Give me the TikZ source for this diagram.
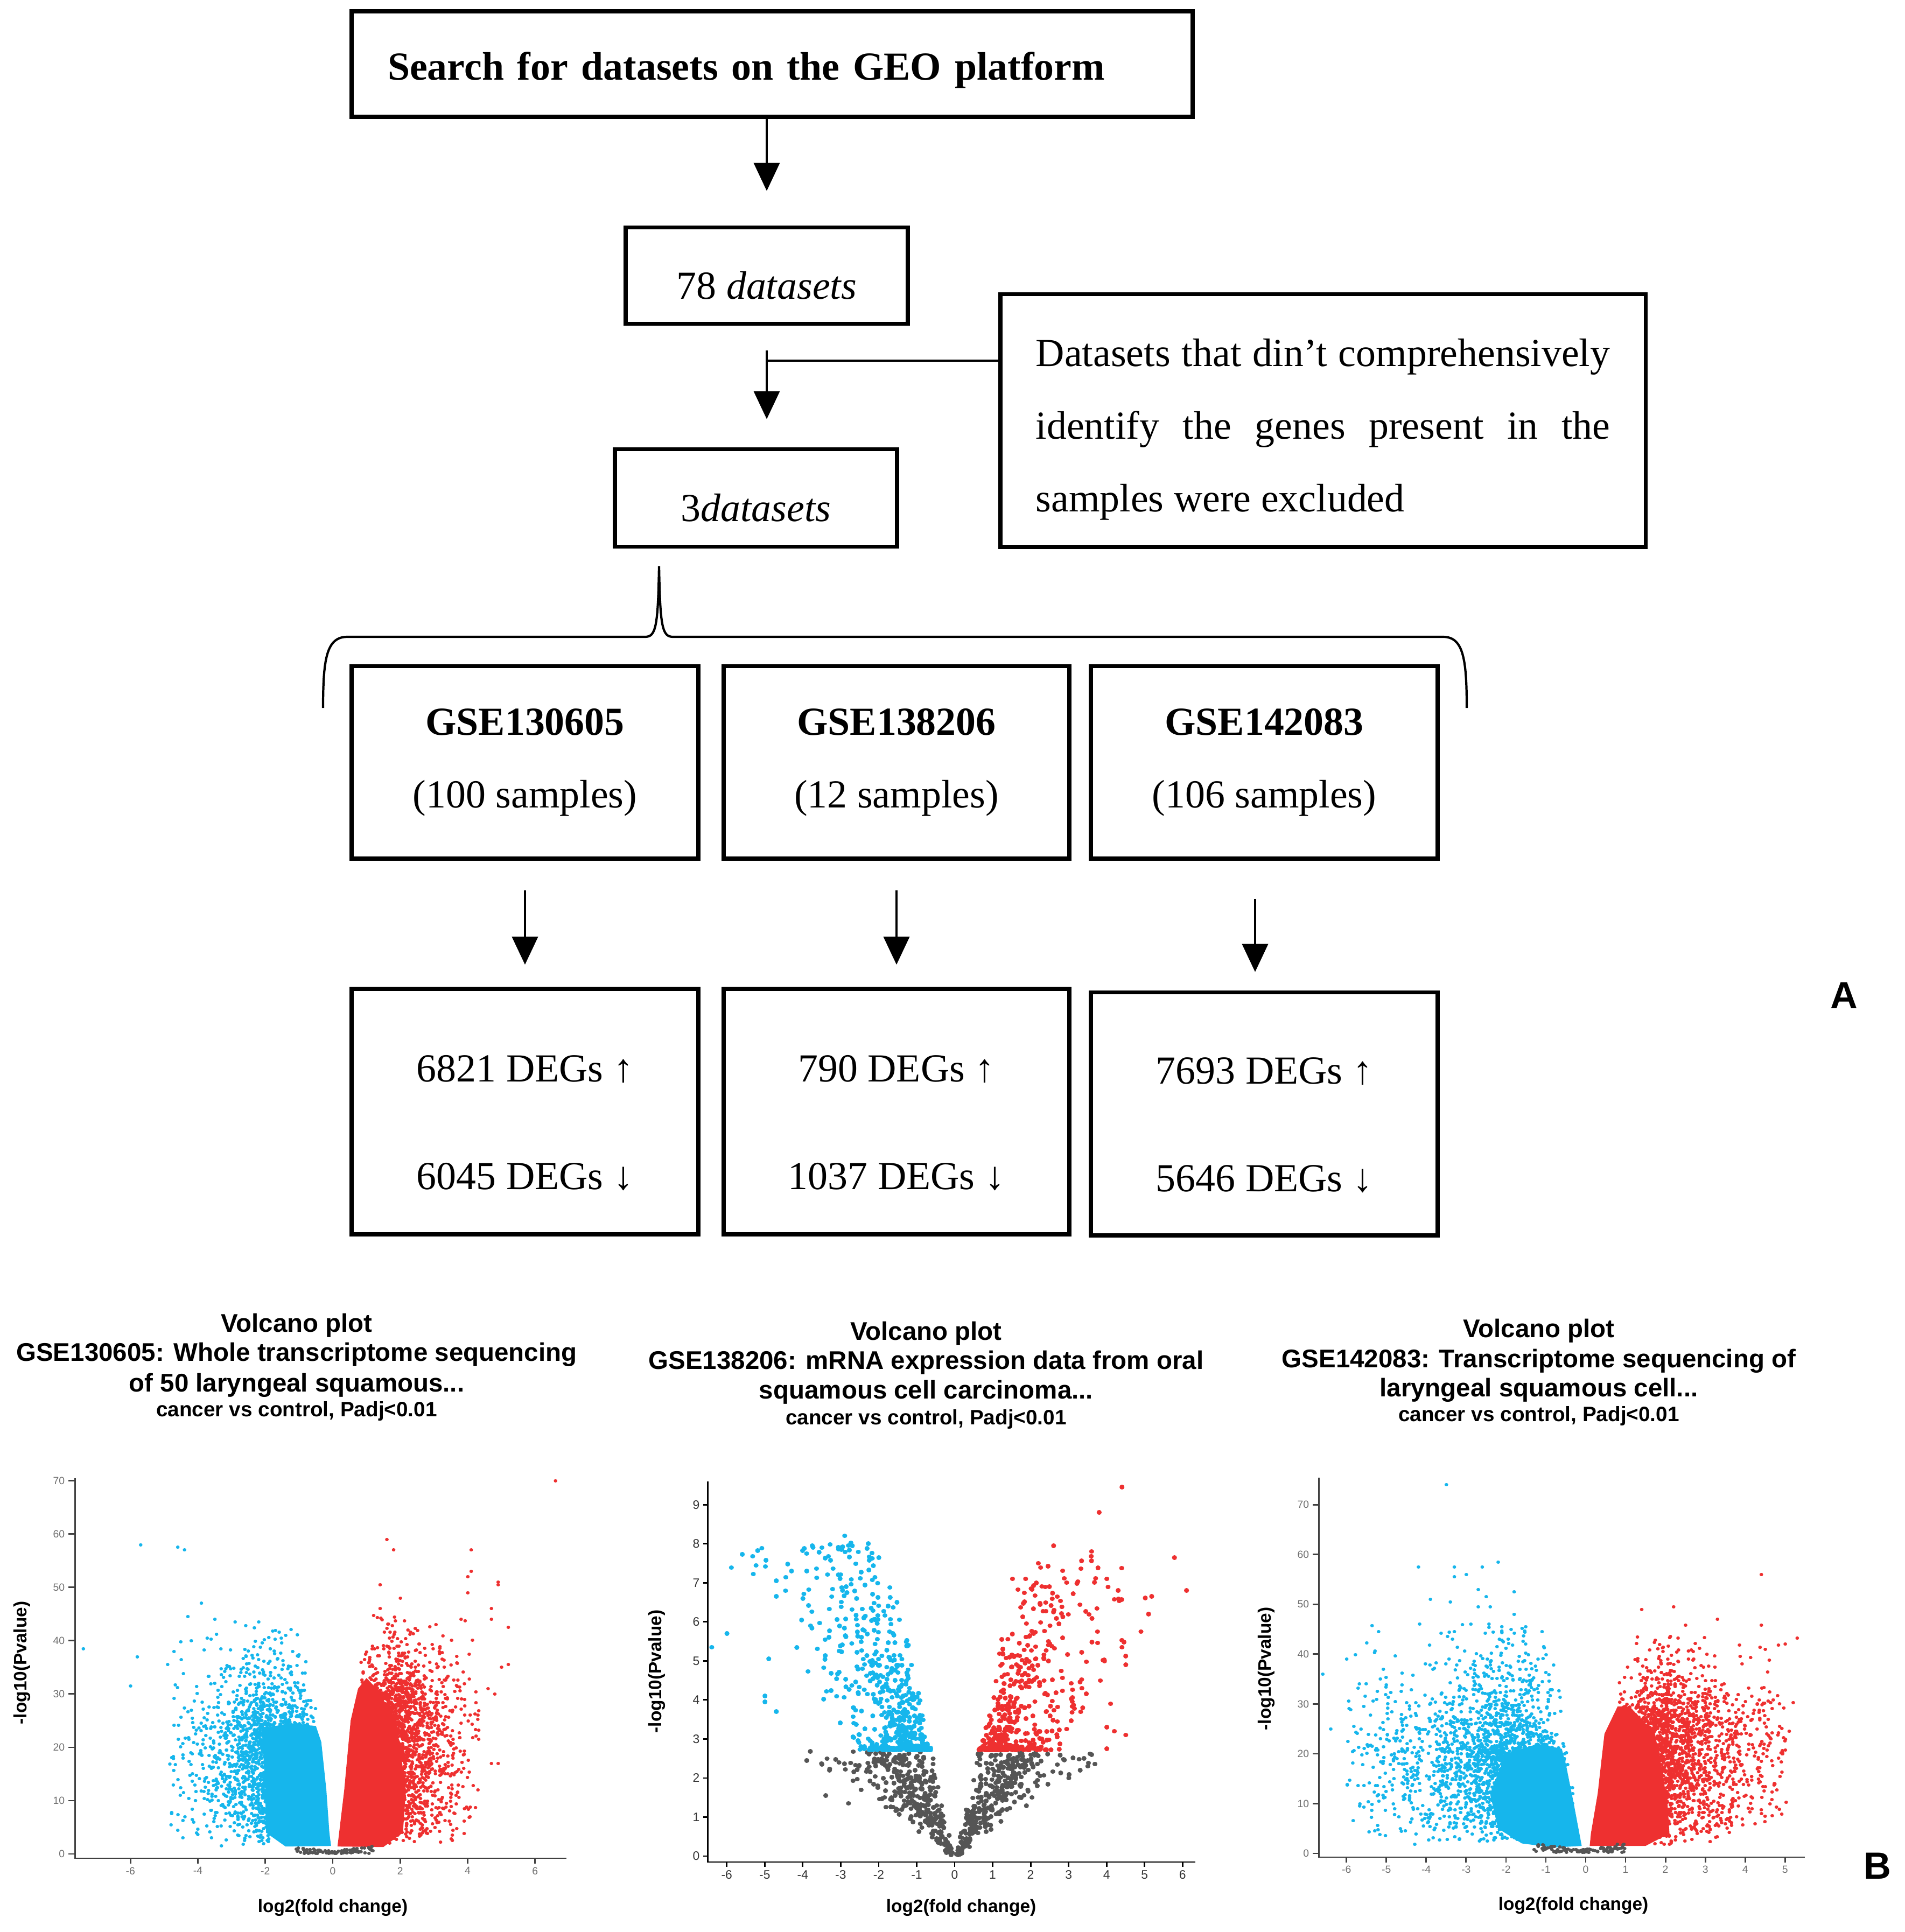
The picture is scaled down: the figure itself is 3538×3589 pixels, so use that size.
\documentclass[tikz,border=0pt]{standalone}
\usepackage{fontspec}
\setmainfont{Liberation Serif}
\newfontfamily\plotfont{Liberation Sans}
\usetikzlibrary{arrows.meta}

\definecolor{upred}{RGB}{238,48,48}
\definecolor{downblue}{RGB}{22,182,236}
\definecolor{flatgray}{RGB}{85,85,85}
\definecolor{tickgray}{RGB}{110,110,110}
\newcommand{\lift}[1]{\rule{0pt}{#1}}

\tikzstyle{flow box}=[draw,line width=2.2pt,inner sep=0pt,align=center,font=\fontsize{21}{38.4}\selectfont]
\tikzstyle{one line}=[text height=25pt,text depth=0pt]
\tikzstyle{flow arrow}=[draw,line width=1.1pt,-{Triangle[width=4.8mm,length=5.2mm]}]
\tikzstyle{plain line}=[draw,line width=1.1pt]
\tikzstyle{brace line}=[draw,line width=1.2pt]
\tikzstyle{gene dot}=[line cap=round,line width=0.6mm]
\tikzstyle{big dot}=[line cap=round,line width=0.85mm]
\tikzstyle{plot title}=[font=\plotfont\bfseries\fontsize{13.5}{15}\selectfont,anchor=base]
\tikzstyle{plot subtitle}=[font=\plotfont\bfseries\fontsize{11}{12}\selectfont,anchor=base]
\tikzstyle{axis label}=[font=\plotfont\bfseries\fontsize{9.5}{11}\selectfont]
\tikzstyle{axis line}=[draw=black!75,line width=0.8pt]
\tikzstyle{tick label}=[font=\plotfont\fontsize{5.5}{6}\selectfont,text=tickgray,inner sep=1.5pt]
\tikzstyle{panel label}=[font=\plotfont\bfseries\fontsize{20}{24}\selectfont]

\begin{document}
\begin{tikzpicture}[x=0.01cm,y=-0.01cm]
\useasboundingbox (0,0) rectangle (3538,3589);
\pgfmathsetseed{11}

% ---- A: selection of the datasets
\node[flow box,font=\bfseries\fontsize{21}{25}\selectfont,align=left,text width=14.27cm,inner xsep=6.7mm,minimum height=1.96cm,text height=17pt,text depth=0pt] (search) at (1434,119) {Search for datasets on the GEO platform};
\node[flow box,one line,minimum width=5.24cm,minimum height=1.79cm] (all) at (1424,512) {78 \textit{datasets}};
\node[flow box,one line,minimum width=5.24cm,minimum height=1.81cm] (kept) at (1404,925) {3\textit{datasets}};
\node[flow box,align=justify,text width=10.66cm,inner xsep=6.6mm,minimum height=4.69cm] (excl) at (2457,781) {\hyphenpenalty=10000 \lift{24pt}Datasets that din’t comprehensively identify the genes present in the\linebreak samples were excluded};

\path[flow arrow,shorten >=6.4mm] (search.south -| all.north) -- (all.north);
\coordinate (join) at (1424,670);
\path[plain line] (excl.west |- join) -- (join);
\path[flow arrow,shorten <=4.6mm,shorten >=5.2mm] (all.south) -- (all.south |- kept.north);

% brace over the three series
\draw[brace line] (600,1315) .. controls (600,1225) and (606,1183) .. (645,1183) -- (1198,1183)
  .. controls (1218,1183) and (1222,1165) .. (1224,1052)
  .. controls (1226,1165) and (1230,1183) .. (1250,1183) -- (2680,1183)
  .. controls (2718,1183) and (2724,1225) .. (2724,1315);

\node[flow box,minimum width=6.43cm,minimum height=3.57cm] (gse1) at (975,1416) {\textbf{GSE130605}\\(100 samples)};
\node[flow box,minimum width=6.41cm,minimum height=3.57cm] (gse2) at (1665,1416) {\textbf{GSE138206}\\(12 samples)};
\node[flow box,minimum width=6.43cm,minimum height=3.57cm] (gse3) at (2348,1416) {\textbf{GSE142083}\\(106 samples)};

\node[flow box,minimum width=6.43cm,minimum height=4.56cm] (deg1) at (975,2065) {\lift{26pt}6821 DEGs ↑\\[18.6pt]6045 DEGs ↓};
\node[flow box,minimum width=6.41cm,minimum height=4.56cm] (deg2) at (1665,2065) {\lift{26pt}790 DEGs ↑\\[18.6pt]1037 DEGs ↓};
\node[flow box,minimum width=6.43cm,minimum height=4.51cm] (deg3) at (2348,2069) {\lift{26pt}7693 DEGs ↑\\[18.6pt]5646 DEGs ↓};

\foreach \n in {1,2}
  \path[flow arrow,shorten <=5.5mm,shorten >=4.1mm] (gse\n.south) -- (deg\n.north);
\path[flow arrow,shorten <=7.1mm,shorten >=3.4mm] ([xshift=-1.7mm]gse3.south) -- ([xshift=-1.7mm]deg3.north);

\node[panel label] (labA) at (3425,1849) {A};

% ---- B: volcano plots
% GSE130605
\node[plot title] (t1a) at (551,2474) {Volcano plot};
\node[plot title] (t1b) at (551,2528) {GSE130605: Whole transcriptome sequencing};
\node[plot title] (t1c) at (551,2585) {of 50 laryngeal squamous...};
\node[plot subtitle] (t1d) at (551,2631) {cancer vs control, Padj<0.01};
\begin{scope}[shift={(618,3444)},x=0.626cm,y=0.099cm]
  \fill[downblue] (-0.05,1.5) -- (-0.1,4) -- (-0.19,12) -- (-0.34,21) -- (-0.5,24) -- (-1.3,24.5)
    -- (-2.1,23.5) -- (-2.0,12) -- (-1.98,4) -- (-1.4,1.4) -- cycle;
  \fill[upred] (0.14,1.4) -- (0.19,4) -- (0.34,12) -- (0.53,25) -- (0.75,31) -- (1.0,33) -- (1.3,31)
    -- (1.88,25) -- (2.17,12) -- (2.08,4) -- (1.5,1.3) -- cycle;
  \foreach \i in {1,...,2000}{
    \pgfmathsetmacro\yy{1.5+22.5*rnd+6*min(-ln(0.001+rnd),3.2)}
    \pgfmathsetmacro\xx{-(0.05+0.016*\yy+(1.95-0.016*\yy)*rnd+0.9*min(-ln(0.001+rnd),3.2))}
    \draw[gene dot,downblue] (\xx,\yy) -- ++(0.01,0);
  }
  \foreach \i in {1,...,2200}{
    \pgfmathsetmacro\yy{1.5+28*rnd+5*min(-ln(0.001+rnd),3.2)}
    \pgfmathsetmacro\xx{0.12+0.018*\yy+(1.95-0.018*\yy)*rnd+0.72*min(-ln(0.001+rnd),3.2)}
    \draw[gene dot,upred] (\xx,\yy) -- ++(0.01,0);
  }
  \foreach \xx/\yy in {-5.7/58,-4.6/57.5,-4.4/57,-7.4/38.5,-3.9/47,-4.3/44.5,-3.5/44,-2.9/43.5,
      -2.2/43.5,-1.4/41,-5.8/37,-6/31.5,-4.9/35.5,-4.2/40}
    \draw[gene dot,downblue] (\xx,\yy) -- ++(0.01,0);
  \foreach \xx/\yy in {6.6/70,1.6/59,1.8/57,4.1/57,4.1/53,4/52,4.9/51,4.9/50.5,1.4/50.5,4/49,2/48,
      1.4/46,4.7/46,3.8/44,4.7/44,5.2/42.5,5/35,5.2/35.5,4.8/30,4.7/17,4.9/17,3.9/8.5,4.3/26,4.6/31}
    \draw[gene dot,upred] (\xx,\yy) -- ++(0.01,0);
  \foreach \i in {1,...,100}{
    \pgfmathsetmacro\xx{-1.1+2.3*rnd}
    \pgfmathsetmacro\yy{0.1+(0.4+0.8*abs(\xx))*rnd}
    \draw[gene dot,flatgray] (\xx,\yy) -- ++(0.01,0);
  }
  \draw[axis line] (-7.64,70.5) -- (-7.64,-0.8) -- (6.93,-0.8);
  \foreach \t in {0,10,...,70}
    \draw[axis line] (-7.64,\t) -- (-7.84,\t) node[tick label,left] (a1y\t) {\t};
  \foreach \t in {-6,-4,...,6}
    \draw[axis line] (\t,-0.8) -- (\t,-1.8) node[tick label,below] (a1x\t) {\t};
\end{scope}
\node[axis label,rotate=90] (ylab1) at (41,3089) {-log10(Pvalue)};
\node[axis label] (xlab1) at (618,3544) {log2(fold change)};

% GSE138206
\node[plot title] (t2a) at (1720,2489) {Volcano plot};
\node[plot title] (t2b) at (1720,2543) {GSE138206: mRNA expression data from oral};
\node[plot title] (t2c) at (1720,2598) {squamous cell carcinoma...};
\node[plot subtitle] (t2d) at (1720,2646) {cancer vs control, Padj<0.01};
\begin{scope}[shift={(1773,3448)},x=0.705cm,y=0.725cm]
  \foreach \i in {1,...,650}{
    \pgfmathsetmacro\yy{2.68*(0.001+rnd)^0.75}
    \pgfmathsetmacro\xx{0.02+0.22*\yy+(0.1+0.5*\yy)*rnd+0.8*\yy*(0.001+rnd)^3}
    \ifodd\i
      \draw[big dot,flatgray] (-\xx,\yy) -- ++(0.01,0);
    \else
      \draw[big dot,flatgray] (\xx,\yy) -- ++(0.01,0);
    \fi
  }
  \foreach \i in {1,...,600}{
    \pgfmathsetmacro\yy{2.72+5.3*(0.001+rnd)^2.6}
    \pgfmathsetmacro\dd{(0.6+0.2*(\yy-2.7))*rnd+(1.4+0.3*(\yy-2.7))*(0.001+rnd)^3}
    \draw[big dot,downblue] ({-(0.62+0.22*(\yy-2.7)+\dd)},\yy) -- ++(0.01,0);
  }
  \foreach \i in {1,...,520}{
    \pgfmathsetmacro\yy{2.72+5*(0.001+rnd)^2.9}
    \pgfmathsetmacro\dd{(0.6+0.25*(\yy-2.7))*rnd+(1.6+0.35*(\yy-2.7))*(0.001+rnd)^3}
    \draw[big dot,upred] ({0.62+0.2*(\yy-2.7)+\dd},\yy) -- ++(0.01,0);
  }
  \foreach \xx/\yy in {-3.9/2.45,-3.5/2.35,-3.3/2.2,-3.4/1.55,-2.8/1.35,3.6/2.6,3.4/2.5,3.3/2.2,3/2,3.5/2.3}
    \draw[big dot,flatgray] (\xx,\yy) -- ++(0.01,0);
  \foreach \xx/\yy in {-6.4/5.35,-6/5.7,-4.9/5.05,-5/4.1,-5/3.95,-4.7/3.7,-4.7/7.05,-4.7/6.65,
      -4.3/7.3,-3.9/7.3,-3.5/7.9,-3/7.9,-2.9/8.2,-2.7/7.95,-4/6.6,-3.8/5.9}
    \draw[big dot,downblue] (\xx,\yy) -- ++(0.01,0);
  \foreach \xx/\yy in {4.4/9.45,3.8/8.8,6.1/6.8,5.1/6.2,4.9/5.75,4.4/5.35,4.5/4.9,4.1/3.9,4/3.3,
      4.2/3.2,4.5/3.1,4/2.75,3.6/7.8,2.6/7.95,4/7.1,4.3/6.8}
    \draw[big dot,upred] (\xx,\yy) -- ++(0.01,0);
  \draw[axis line,draw=black] (-6.5,9.6) -- (-6.5,-0.15) -- (6.34,-0.15);
  \foreach \t in {0,...,9}
    \draw[axis line,draw=black] (-6.5,\t) -- (-6.62,\t) node[tick label,left,text=black!80,font=\plotfont\fontsize{6.5}{7}\selectfont] (a2y\t) {\t};
  \foreach \t in {-6,...,6}
    \draw[axis line,draw=black] (\t,-0.15) -- (\t,-0.27) node[tick label,below,text=black!80,font=\plotfont\fontsize{6.5}{7}\selectfont] (a2x\t) {\t};
\end{scope}
\node[axis label,rotate=90] (ylab2) at (1220,3105) {-log10(Pvalue)};
\node[axis label] (xlab2) at (1785,3544) {log2(fold change)};

% GSE142083
\node[plot title] (t3a) at (2858,2484) {Volcano plot};
\node[plot title] (t3b) at (2858,2540) {GSE142083: Transcriptome sequencing of};
\node[plot title] (t3c) at (2858,2594) {laryngeal squamous cell...};
\node[plot subtitle] (t3d) at (2858,2640) {cancer vs control, Padj<0.01};
\begin{scope}[shift={(2945,3443)},x=0.74cm,y=0.0925cm]
  \fill[downblue] (-0.1,1.5) -- (-0.3,10) -- (-0.5,18) -- (-0.6,21) -- (-1.2,22) -- (-2.0,20)
    -- (-2.4,12) -- (-2.2,5) -- (-1.6,2) -- (-0.8,1.2) -- cycle;
  \fill[upred] (0.1,1.5) -- (0.13,4) -- (0.3,12) -- (0.47,24) -- (0.8,29.5) -- (1.1,29.5) -- (1.74,24)
    -- (2.05,10.4) -- (2.1,4) -- (1.5,1.5) -- cycle;
  \foreach \i in {1,...,2200}{
    \pgfmathsetmacro\yy{1.5+19*rnd+8*min(-ln(0.001+rnd),3.2)}
    \pgfmathsetmacro\xx{-(0.08+0.016*\yy+(2.1-0.016*\yy)*rnd+1.2*min(-ln(0.001+rnd),3.2))}
    \draw[gene dot,downblue] (\xx,\yy) -- ++(0.01,0);
  }
  \foreach \i in {1,...,2400}{
    \pgfmathsetmacro\yy{1.5+25*rnd+5.5*min(-ln(0.001+rnd),3.2)}
    \pgfmathsetmacro\xx{0.1+0.02*\yy+(1.9-0.02*\yy)*rnd+0.95*min(-ln(0.001+rnd),3.2)}
    \draw[gene dot,upred] (\xx,\yy) -- ++(0.01,0);
  }
  \foreach \xx/\yy in {-3.5/74,-2.2/58.5,-3.3/57.5,-2.6/57.5,-4.2/57.5,-3.3/55.5,-3/56,-2.7/53,
      -1.8/52.5,-3.9/51,-3.4/50.5,-2.5/51.5,-2.7/49.5,-2.4/49.5,-1.8/48,-5.2/44.5,-1.1/44.5,
      -3.3/44.5,-6.6/36,-6.4/25,-6/39,-5.3/40.3,-5.9/28.8,-5.4/21.7}
    \draw[gene dot,downblue] (\xx,\yy) -- ++(0.01,0);
  \foreach \xx/\yy in {4.4/56,1.4/49,2.2/49.5,3.3/47,2.5/45.8,4.4/45.8,5.3/43.2,5/42,4.5/41,
      4.6/38.8,5.2/30.3,5.1/24.5,4.3/17,4.4/18.5,4.3/30}
    \draw[gene dot,upred] (\xx,\yy) -- ++(0.01,0);
  \foreach \i in {1,...,100}{
    \pgfmathsetmacro\xx{-1.3+2.3*rnd}
    \pgfmathsetmacro\yy{0.2+(0.5+1.2*abs(\xx+0.15))*rnd}
    \draw[gene dot,flatgray] (\xx,\yy) -- ++(0.01,0);
  }
  \draw[axis line] (-6.69,75.4) -- (-6.69,-0.76) -- (5.5,-0.76);
  \foreach \t in {0,10,...,70}
    \draw[axis line] (-6.69,\t) -- (-6.85,\t) node[tick label,left] (a3y\t) {\t};
  \foreach \t in {-6,...,5}
    \draw[axis line] (\t,-0.76) -- (\t,-1.8) node[tick label,below] (a3x\t) {\t};
\end{scope}
\node[axis label,rotate=90] (ylab3) at (2352,3100) {-log10(Pvalue)};
\node[axis label] (xlab3) at (2922,3540) {log2(fold change)};

\node[panel label] (labB) at (3487,3466) {B};
\end{tikzpicture}
\end{document}
